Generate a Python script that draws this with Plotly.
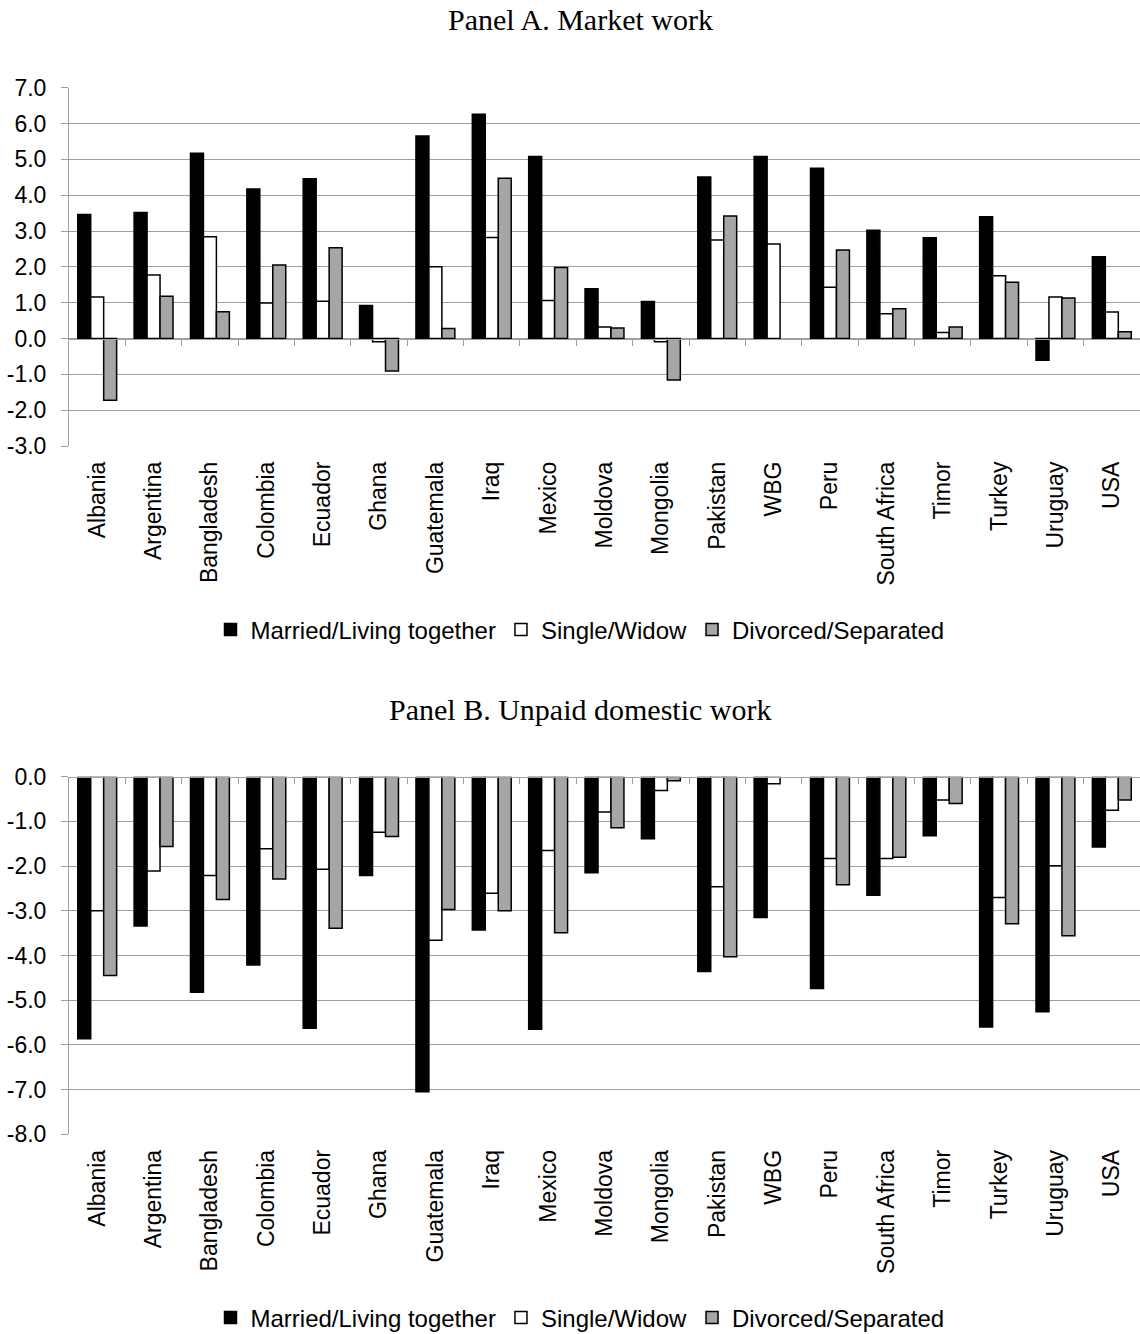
import plotly.graph_objects as go

# Countries on the horizontal axis (same order in both panels)
countries = ["Albania", "Argentina", "Bangladesh", "Colombia", "Ecuador", "Ghana",
             "Guatemala", "Iraq", "Mexico", "Moldova", "Mongolia", "Pakistan", "WBG",
             "Peru", "South Africa", "Timor", "Turkey", "Uruguay", "USA"]

series_names = ["Married/Living together", "Single/Widow", "Divorced/Separated"]

# Panel A. Market work
market_married = [3.46, 3.52, 5.17, 4.17, 4.46, 0.92, 5.65, 6.26, 5.08, 1.39,
                  1.03, 4.51, 5.08, 4.75, 3.02, 2.81, 3.40, -0.61, 2.28]
market_single = [1.16, 1.77, 2.84, 0.99, 1.04, -0.09, 2.00, 2.82, 1.06, 0.32,
                 -0.09, 2.75, 2.64, 1.43, 0.69, 0.17, 1.75, 1.16, 0.74]
market_divorced = [-1.72, 1.18, 0.75, 2.05, 2.53, -0.91, 0.28, 4.47, 1.98, 0.29,
                   -1.16, 3.42, None, 2.47, 0.83, 0.32, 1.57, 1.13, 0.19]

# Panel B. Unpaid domestic work
domestic_married = [-5.86, -3.34, -4.82, -4.21, -5.63, -2.21, -7.05, -3.43, -5.65, -2.15,
                    -1.39, -4.36, -3.15, -4.74, -2.65, -1.32, -5.60, -5.26, -1.57]
domestic_single = [-3.00, -2.11, -2.21, -1.61, -2.07, -1.24, -3.66, -2.61, -1.65, -0.79,
                   -0.31, -2.46, -0.16, -1.83, -1.83, -0.52, -2.70, -1.99, -0.75]
domestic_divorced = [-4.45, -1.56, -2.75, -2.29, -3.39, -1.34, -2.97, -3.00, -3.49, -1.14,
                     -0.09, -4.03, None, -2.42, -1.80, -0.60, -3.29, -3.56, -0.52]

# value-axis ticks (plain hyphen for negatives)
a_ticks = [-3, -2, -1, 0, 1, 2, 3, 4, 5, 6, 7]
a_tick_labels = ["-3.0", "-2.0", "-1.0", "0.0", "1.0", "2.0", "3.0", "4.0", "5.0", "6.0", "7.0"]
b_ticks = [-8, -7, -6, -5, -4, -3, -2, -1, 0]
b_tick_labels = ["-8.0", "-7.0", "-6.0", "-5.0", "-4.0", "-3.0", "-2.0", "-1.0", "0.0"]

fills = ["#000000", "#FFFFFF", "#A6A6A6"]
GRID = "#9F9F9F"
SANS = "Liberation Sans, Arial, sans-serif"
SERIF = "Liberation Serif, Times New Roman, serif"

W, H = 1140, 1334
ML = 69
# vertical layout in pixels (top of figure = 0)
A_TOP, A_BOT = 87.7, 446.0
B_TOP, B_BOT = 776.7, 1134.3
A_RANGE = (-3, 7)
B_RANGE = (-8, 0)


def fy(px):
    return 1 - px / H


def fx(px):
    return (px - ML) / (W - ML)


fig = go.Figure()

panels = [
    ("x", "y", "legend", [market_married, market_single, market_divorced]),
    ("x2", "y2", "legend2", [domestic_married, domestic_single, domestic_divorced]),
]
for xa, ya, lg, values in panels:
    for name, vals, fill in zip(series_names, values, fills):
        fig.add_trace(go.Bar(
            x=countries, y=vals, name=name, xaxis=xa, yaxis=ya, legend=lg,
            marker=dict(color=fill, line=dict(color="#000000", width=1.5)),
        ))

# carrier traces for the zero-line axes with category-boundary ticks
fig.add_trace(go.Scatter(x=[], y=[], xaxis="x3", yaxis="y", showlegend=False))
fig.add_trace(go.Scatter(x=[], y=[], xaxis="x4", yaxis="y2", showlegend=False))

n = len(countries)
boundaries = [i + 0.5 for i in range(n - 1)]

xcommon = dict(
    type="category", showgrid=False, showline=False, ticks="", automargin=False,
    tickangle=-90, tickfont=dict(family=SANS, size=23, color="#000000"),
    ticklabelstandoff=10, domain=[0, 1],
)
ycommon = dict(
    tickmode="array", showgrid=True, gridcolor=GRID, gridwidth=1,
    zeroline=False, showline=True, linecolor=GRID, linewidth=1, automargin=False,
    ticks="outside", ticklen=7, tickcolor=GRID,
    tickfont=dict(family=SANS, size=23, color="#000000"), ticklabelstandoff=10,
)
zero_axis = dict(
    type="linear", range=[-0.5, n - 0.5], tickvals=boundaries, showticklabels=False,
    ticks="outside", ticklen=6, tickcolor=GRID, showline=True, linecolor=GRID,
    linewidth=1, showgrid=False, zeroline=False, anchor="free", automargin=False,
)

a_zero_px = A_TOP + (A_RANGE[1] - 0) / (A_RANGE[1] - A_RANGE[0]) * (A_BOT - A_TOP)

legend_common = dict(
    orientation="h", xref="paper", yref="paper", xanchor="center", yanchor="middle",
    font=dict(family=SANS, size=24, color="#000000"), bgcolor="rgba(0,0,0,0)",
    itemwidth=30,
)

fig.update_layout(
    width=W, height=H,
    margin=dict(l=ML, r=0, t=0, b=0, autoexpand=False),
    paper_bgcolor="#FFFFFF", plot_bgcolor="#FFFFFF",
    font=dict(family=SANS, color="#000000"),
    barmode="group", bargap=0.31, bargroupgap=0,
    xaxis=dict(**xcommon, anchor="y"),
    xaxis2=dict(**xcommon, anchor="y2"),
    yaxis=dict(**ycommon, tickvals=a_ticks, ticktext=a_tick_labels,
               range=list(A_RANGE), domain=[fy(A_BOT), fy(A_TOP)], anchor="x"),
    yaxis2=dict(**ycommon, tickvals=b_ticks, ticktext=b_tick_labels,
                range=list(B_RANGE), domain=[fy(B_BOT), fy(B_TOP)], anchor="x2"),
    xaxis3=dict(**zero_axis, overlaying="x", position=fy(a_zero_px)),
    xaxis4=dict(**zero_axis, overlaying="x2", position=fy(B_TOP)),
    legend=dict(**legend_common, x=fx(580), y=fy(630)),
    legend2=dict(**legend_common, x=fx(580), y=fy(1318)),
    annotations=[
        dict(text="Panel A. Market work", xref="paper", yref="paper",
             x=fx(580), y=fy(20), xanchor="center", yanchor="middle",
             showarrow=False, font=dict(family=SERIF, size=30, color="#000000")),
        dict(text="Panel B. Unpaid domestic work", xref="paper", yref="paper",
             x=fx(580), y=fy(709), xanchor="center", yanchor="middle",
             showarrow=False, font=dict(family=SERIF, size=30, color="#000000")),
    ],
    showlegend=True,
)

fig.write_html("out.html")
